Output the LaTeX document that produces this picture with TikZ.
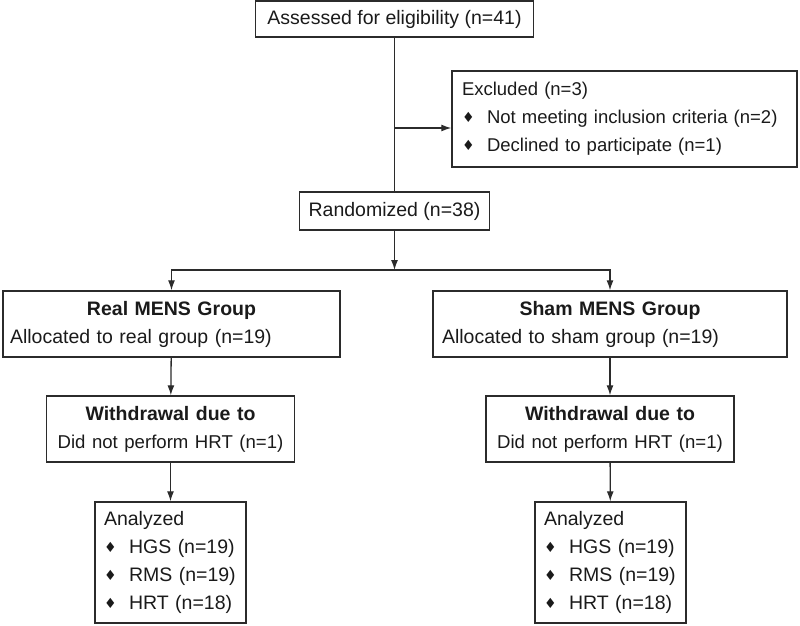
\documentclass[tikz,border=0pt]{standalone}
\usepackage{fontspec}
\setmainfont{Liberation Sans}
\newfontfamily\symfont{DejaVu Sans}
\usetikzlibrary{arrows.meta}
\definecolor{linegray}{HTML}{2B2B2B}
\definecolor{textgray}{HTML}{1A1A1A}
\newcommand{\dia}{\makebox[25pt][l]{\symfont\fontsize{14}{14}\selectfont\raisebox{1.5pt}{♦}}}
\newcommand{\smalltext}{\fontsize{18.6}{28}\selectfont}

\begin{document}
\begin{tikzpicture}[x = 1pt, y = -1pt,
	box/.style = {draw = linegray, line width = 1.4pt, inner ysep = 0pt, text = textgray,
		font = \fontsize{19.5}{28}\selectfont},
	arr/.style = {draw = linegray, line width = 1.3pt, -{Latex[length = 10pt, width = 7pt]}},
	link/.style = {draw = linegray, line width = 1.3pt}]
	\useasboundingbox (0, 0) rectangle (800, 625);
	% top part
	\node[box, inner xsep = 0pt, minimum width = 278pt, minimum height = 36pt] (assess) at (394.5, 19) {Assessed for eligibility (n=41)};
	\node[box, align = left, inner xsep = 10pt, text width = 325pt, minimum height = 96pt, font = \fontsize{18.5}{28}\selectfont] (excl) at (624.5, 119)
		{Excluded (n=3)\\ \dia Not meeting inclusion criteria (n=2)\\ \dia Declined to participate (n=1)};
	\node[box, inner xsep = 0pt, minimum width = 190pt, minimum height = 38pt] (rand) at (394.5, 211) {Randomized (n=38)};
	% groups
	\node[box, align = left, inner xsep = 7pt, text width = 323pt, minimum height = 66pt] (real) at (171.5, 324)
		{\makebox[\linewidth]{\textbf{Real MENS Group}}\\ Allocated to real group (n=19)};
	\node[box, align = left, inner xsep = 9pt, text width = 336pt, minimum height = 66pt] (sham) at (610, 324)
		{\makebox[\linewidth]{\textbf{Sham MENS Group}}\\ Allocated to sham group (n=19)};
	% withdrawal
	\node[box, align = center, inner xsep = 10pt, text width = 228pt, minimum height = 66pt] (wdreal) at (170.5, 429)
		{\textbf{Withdrawal due to}\\ {\smalltext Did not perform HRT (n=1)}};
	\node[box, align = center, inner xsep = 10pt, text width = 228pt, minimum height = 66pt] (wdsham) at (610, 429)
		{\textbf{Withdrawal due to}\\ {\smalltext Did not perform HRT (n=1)}};
	% analysis
	\node[box, align = left, inner xsep = 9pt, text width = 133pt, minimum height = 121pt] (anreal) at (170.5, 562.5)
		{Analyzed\\ \dia HGS (n=19)\\ \dia RMS (n=19)\\ \dia HRT (n=18)};
	\node[box, align = left, inner xsep = 9pt, text width = 133pt, minimum height = 121pt] (ansham) at (610.5, 562.5)
		{Analyzed\\ \dia HGS (n=19)\\ \dia RMS (n=19)\\ \dia HRT (n=18)};
	% connectors
	\coordinate (split) at (394.5, 128);
	\coordinate (branch) at (394.5, 270);
	\draw[link] (assess) -- (rand);
	\draw[arr] (split) -- (split -| excl.west);
	\draw[arr] (rand) -- (branch);
	\draw[arr] (branch) -| (real);
	\draw[arr] (branch) -| (sham);
	\draw[arr] (real) -- (wdreal);
	\draw[arr] (sham) -- (wdsham);
	\draw[arr] (wdreal) -- (anreal);
	\draw[arr] (wdsham) -- (ansham);
\end{tikzpicture}
\end{document}
